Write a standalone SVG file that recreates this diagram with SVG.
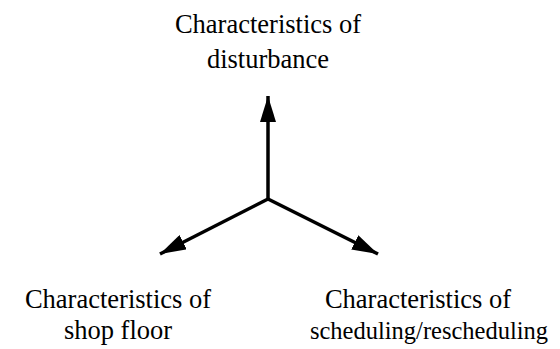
<svg xmlns="http://www.w3.org/2000/svg" width="560" height="349" viewBox="0 0 560 349">
  <style>
    .lbl { font-family: "Liberation Serif", "Times New Roman", serif; font-size: 26.5px; fill: #000; text-anchor: middle; }
    .narrow { font-size: 24.5px; }
    .conn { stroke: #000; stroke-width: 3.5; fill: none; }
  </style>
  <defs>
    <marker id="head" markerUnits="userSpaceOnUse" markerWidth="28" markerHeight="16" refX="26" refY="8" orient="auto">
      <path d="M0,0 L26,8 L0,16 Z" fill="#000"/>
    </marker>
  </defs>
  <rect width="560" height="349" fill="#fff"/>
  <g id="connectors">
    <line class="conn" x1="268" y1="199" x2="268" y2="96" marker-end="url(#head)"/>
    <line class="conn" x1="268" y1="199" x2="160" y2="254" marker-end="url(#head)"/>
    <line class="conn" x1="268" y1="199" x2="378" y2="254" marker-end="url(#head)"/>
  </g>
  <g id="disturbance">
    <text class="lbl" x="268" y="33">Characteristics of</text>
    <text class="lbl" x="268" y="68">disturbance</text>
  </g>
  <g id="shop-floor">
    <text class="lbl" x="118" y="308">Characteristics of</text>
    <text class="lbl" x="118" y="339">shop floor</text>
  </g>
  <g id="scheduling">
    <text class="lbl" x="418" y="308">Characteristics of</text>
    <text class="lbl narrow" x="429" y="339">scheduling/rescheduling</text>
  </g>
</svg>
